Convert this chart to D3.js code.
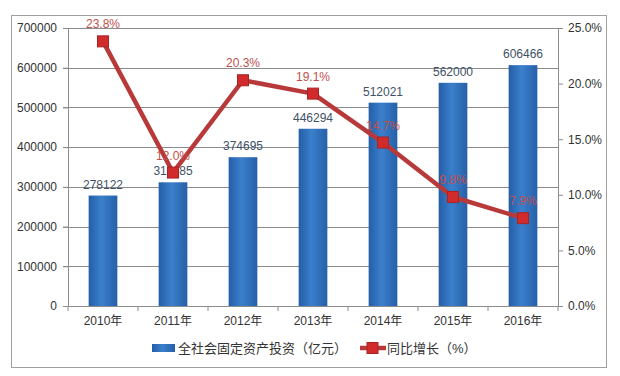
<!DOCTYPE html>
<html>
<head>
<meta charset="utf-8">
<script src="https://cdn.jsdelivr.net/npm/d3@7"></script>
<style>
  body { margin: 0; background: #fff; }
  text { font-family: "Liberation Sans", "Noto Sans CJK SC", sans-serif; }
</style>
</head>
<body>
<div id="viz"></div>
<script>
// data
const years = ['2010年', '2011年', '2012年', '2013年', '2014年', '2015年', '2016年'];
const investment = [278122, 311485, 374695, 446294, 512021, 562000, 606466];
const growth = [23.8, 12.0, 20.3, 19.1, 14.7, 9.8, 7.9];
const leftTicks = [0, 100000, 200000, 300000, 400000, 500000, 600000, 700000];
const rightTicks = [0, 5, 10, 15, 20, 25];
const barName = '全社会固定资产投资（亿元）';
const lineName = '同比增长（%）';

const width = 620;
const height = 376;
const margin = {top: 28, right: 62, bottom: 70, left: 68};
const boundedWidth = width - margin.left - margin.right;
const boundedHeight = height - margin.top - margin.bottom;

const svg = d3.select('#viz').append('svg')
    .attr('width', width)
    .attr('height', height);

// outer frame
svg.append('rect')
    .attr('x', 11.5).attr('y', 15.5)
    .attr('width', 595).attr('height', 352)
    .attr('fill', 'none')
    .attr('stroke', '#a0a0a0');

const defs = svg.append('defs');
const grad = defs.append('linearGradient').attr('id', 'barGrad')
    .attr('x1', 0).attr('x2', 1).attr('y1', 0).attr('y2', 0);
grad.append('stop').attr('offset', '0%').attr('stop-color', '#245ea6');
grad.append('stop').attr('offset', '45%').attr('stop-color', '#3b7fcc');
grad.append('stop').attr('offset', '100%').attr('stop-color', '#2660a8');

const viz = svg.append('g')
    .attr('transform', `translate(${margin.left}, ${margin.top})`);

// scales
const xScale = d3.scaleBand()
    .domain(years)
    .range([0, boundedWidth])
    .paddingInner(0.59)
    .paddingOuter(0.295);

const yScale = d3.scaleLinear()
    .domain([0, 700000])
    .range([boundedHeight, 0]);

const yRight = d3.scaleLinear()
    .domain([0, 25])
    .range([boundedHeight, 0]);

// gridlines
viz.append('g')
    .selectAll('line')
    .data(leftTicks.slice(1))
    .join('line')
        .attr('x1', -5).attr('x2', boundedWidth)
        .attr('y1', d => Math.round(yScale(d)) + 0.5)
        .attr('y2', d => Math.round(yScale(d)) + 0.5)
        .attr('stroke', '#8c8c8c');

// left axis
const yAxis = d3.axisLeft(yScale).tickValues(leftTicks).tickSize(5).tickSizeOuter(0).tickPadding(6)
    .tickFormat(d3.format('d'));
const gy = viz.append('g').call(yAxis);
gy.select('.domain').attr('stroke', '#8c8c8c');
gy.selectAll('.tick line').attr('stroke', '#8c8c8c');
gy.selectAll('text').attr('font-size', 12).attr('fill', '#333');

// right axis
const yAxisR = d3.axisRight(yRight).tickValues(rightTicks).tickSize(5).tickSizeOuter(0).tickPadding(5)
    .tickFormat(d => d.toFixed(1) + '%');
const gyr = viz.append('g').attr('transform', `translate(${boundedWidth},0)`).call(yAxisR);
gyr.select('.domain').attr('stroke', '#8c8c8c');
gyr.selectAll('.tick line').attr('stroke', '#8c8c8c');
gyr.selectAll('text').attr('font-size', 12).attr('fill', '#333');

// x axis
const xAxis = d3.axisBottom(xScale).tickSize(0).tickSizeOuter(0).tickPadding(10);
const gx = viz.append('g').attr('transform', `translate(0,${boundedHeight})`).call(xAxis);
gx.select('.domain').attr('stroke', '#8c8c8c');
gx.selectAll('text').attr('font-size', 12).attr('fill', '#333');
const step = xScale.step();
gx.selectAll('.sep')
    .data(d3.range(years.length + 1))
    .join('line')
        .attr('x1', i => i * step).attr('x2', i => i * step)
        .attr('y1', 0).attr('y2', 5)
        .attr('stroke', '#8c8c8c');

// bars
viz.selectAll('.bar')
    .data(investment)
    .join('rect')
        .attr('class', 'bar')
        .attr('x', (d, i) => xScale(years[i]))
        .attr('y', d => yScale(d))
        .attr('width', xScale.bandwidth())
        .attr('height', d => boundedHeight - yScale(d))
        .attr('fill', 'url(#barGrad)');

viz.selectAll('.barLabel')
    .data(investment)
    .join('text')
        .attr('class', 'barLabel')
        .attr('x', (d, i) => xScale(years[i]) + xScale.bandwidth() / 2)
        .attr('y', d => yScale(d) - 7)
        .attr('text-anchor', 'middle')
        .attr('font-size', 12)
        .attr('fill', '#3e5266')
        .text(d => d);

// line
const cx = i => xScale(years[i]) + xScale.bandwidth() / 2;
const line = d3.line()
    .x((d, i) => cx(i))
    .y(d => yRight(d));

viz.append('path')
    .datum(growth)
    .attr('d', line)
    .attr('fill', 'none')
    .attr('stroke', '#b8393a')
    .attr('stroke-width', 4.5)
    .attr('stroke-linejoin', 'round');

viz.selectAll('.marker')
    .data(growth)
    .join('rect')
        .attr('class', 'marker')
        .attr('x', (d, i) => cx(i) - 5.5)
        .attr('y', d => yRight(d) - 5.5)
        .attr('width', 11).attr('height', 11)
        .attr('fill', '#d12b2b')
        .attr('stroke', '#a82424')
        .attr('stroke-width', 1);

viz.selectAll('.lineLabel')
    .data(growth)
    .join('text')
        .attr('class', 'lineLabel')
        .attr('x', (d, i) => cx(i))
        .attr('y', d => yRight(d) - 13)
        .attr('text-anchor', 'middle')
        .attr('font-size', 12)
        .attr('fill', '#c0504d')
        .text(d => d.toFixed(1) + '%');

// legend
const legend = svg.append('g').attr('transform', 'translate(152, 348)');
legend.append('rect')
    .attr('x', 0).attr('y', -4).attr('width', 23).attr('height', 8)
    .attr('fill', 'url(#barGrad)');
legend.append('text')
    .attr('x', 26).attr('y', 5)
    .attr('font-size', 13).attr('fill', '#333')
    .text(barName);
legend.append('line')
    .attr('x1', 208).attr('x2', 234).attr('y1', 0).attr('y2', 0)
    .attr('stroke', '#b8393a').attr('stroke-width', 4.5);
legend.append('rect')
    .attr('x', 215).attr('y', -5.5).attr('width', 11).attr('height', 11)
    .attr('fill', '#d12b2b').attr('stroke', '#a82424');
legend.append('text')
    .attr('x', 235).attr('y', 5)
    .attr('font-size', 13).attr('fill', '#333')
    .text(lineName);
</script>
</body>
</html>
